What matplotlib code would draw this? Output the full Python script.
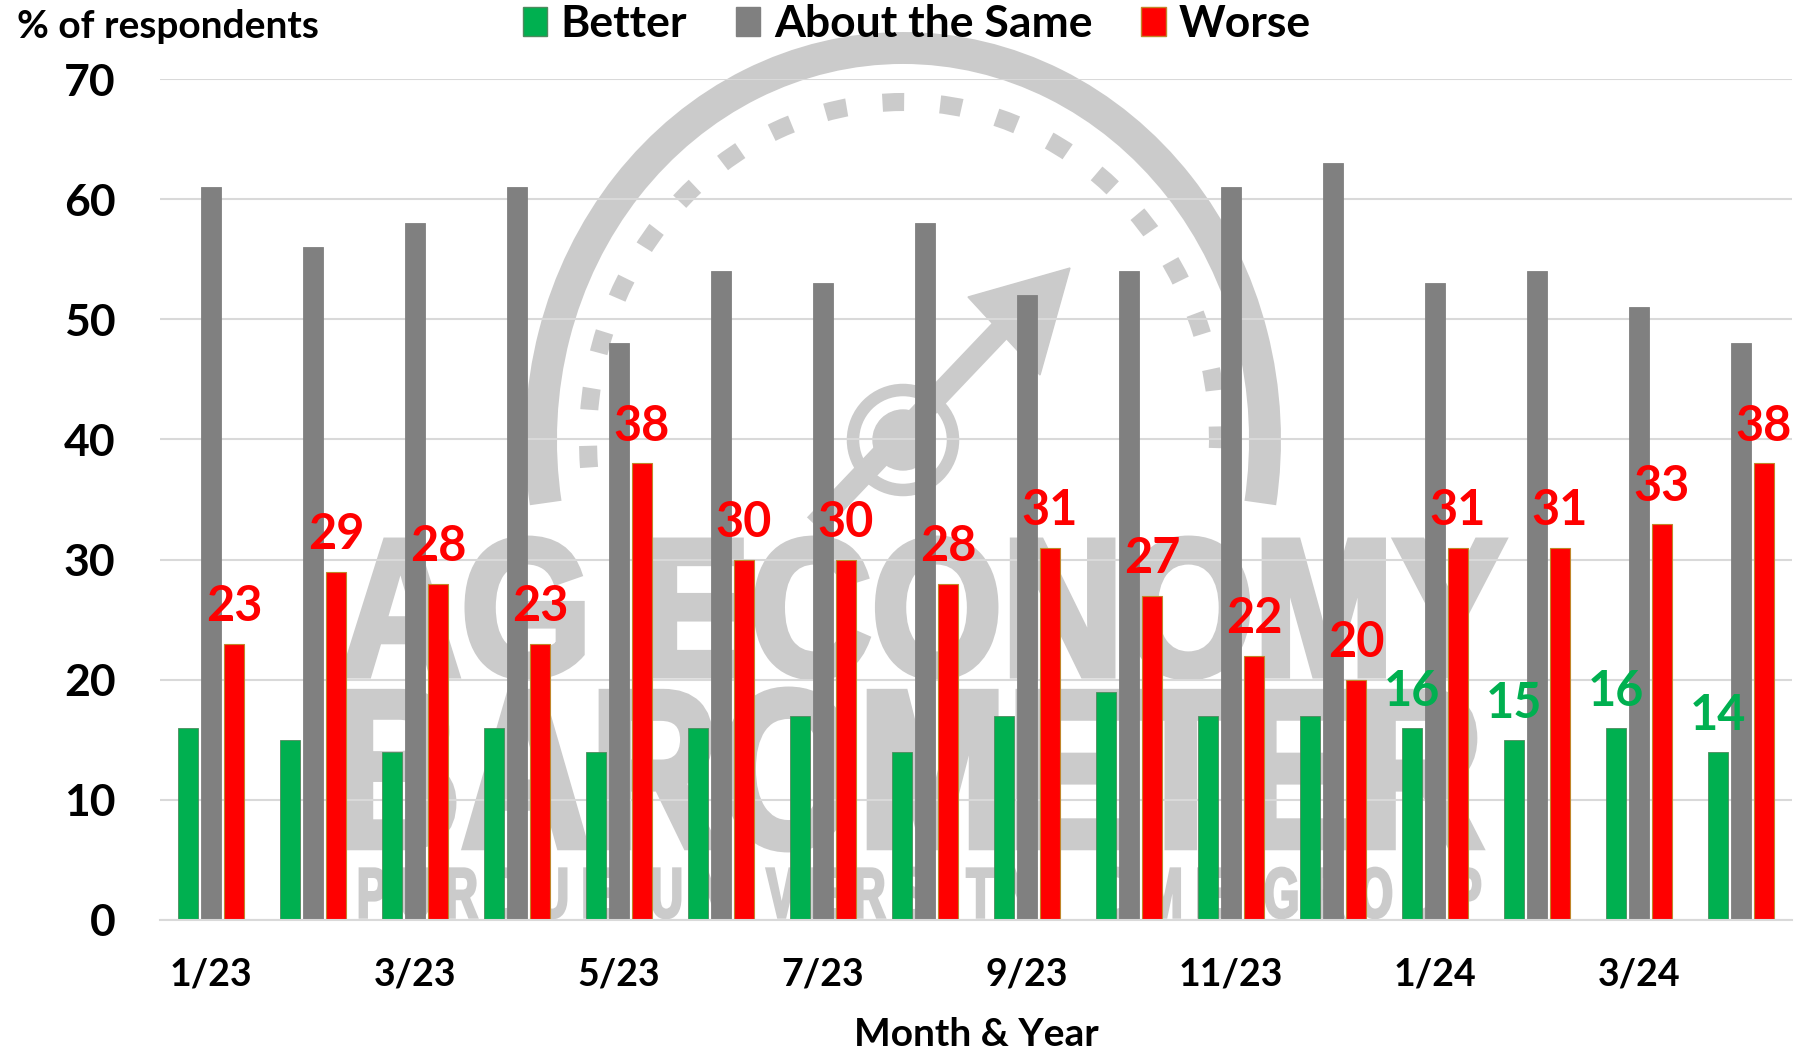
import numpy as np
import matplotlib
matplotlib.use("Agg")
import matplotlib.pyplot as plt
from matplotlib.patches import Arc, Circle, Polygon, PathPatch, Patch
from matplotlib.textpath import TextPath
from matplotlib.font_manager import FontProperties
from matplotlib.transforms import Affine2D

plt.rcParams['font.family'] = ['Lato', 'DejaVu Sans']
plt.rcParams['font.weight'] = 'bold'

# data
months = ["1/23", "2/23", "3/23", "4/23", "5/23", "6/23", "7/23", "8/23",
          "9/23", "10/23", "11/23", "12/23", "1/24", "2/24", "3/24", "4/24"]
better = [16, 15, 14, 16, 14, 16, 17, 14, 17, 19, 17, 17, 16, 15, 16, 14]
same = [61, 56, 58, 61, 48, 54, 53, 58, 52, 54, 61, 63, 53, 54, 51, 48]
worse = [23, 29, 28, 23, 38, 30, 30, 28, 31, 27, 22, 20, 31, 31, 33, 38]
# months where the "Better" value is labelled
better_labelled = ["1/24", "2/24", "3/24", "4/24"]

green = "#00B050"
grey = "#808080"
red = "#FF0000"
wm = "#CBCBCB"

W, H = 1799, 1053
fig = plt.figure(figsize=(W / 100, H / 100), dpi=100)

# --- watermark, drawn in pixel coordinates behind the chart ---
bg = fig.add_axes([0, 0, 1, 1], zorder=0)
bg.set_xlim(0, W)
bg.set_ylim(H, 0)
bg.axis("off")

# y axis is flipped here, so angles run the other way
cx, cy = 903, 440
bg.add_patch(Arc((cx, cy), 2 * 362, 2 * 392, theta1=170, theta2=370,
                 color=wm, lw=23))
bg.add_patch(Arc((cx, cy), 2 * 315, 2 * 338, theta1=175, theta2=365,
                 color=wm, lw=13, linestyle=(0, (1.2, 2.0))))
bg.add_patch(Circle((cx, cy), 50, fill=False, ec=wm, lw=9))
bg.add_patch(Circle((cx, cy), 30, color=wm))
bg.plot([815, 1010], [525, 320], color=wm, lw=16, solid_capstyle="butt")
bg.add_patch(Polygon([[1070, 268], [968, 297], [1040, 375]], color=wm))


def fit_text(s, x0, x1, y0, y1, thick=0):
    fp = FontProperties(family="Liberation Sans", weight="bold")
    tp = TextPath((0, 0), s, size=100, prop=fp)
    ext = tp.get_extents()
    sx = (x1 - x0) / ext.width
    sy = (y1 - y0) / ext.height
    tr = Affine2D().translate(-ext.x0, -ext.y0).scale(sx, -sy).translate(x0, y1)
    bg.add_patch(PathPatch(tr.transform_path(tp), fc=wm, ec=wm, lw=thick))


fit_text("AG ECONOMY", 344, 1503, 539, 677, thick=5)
fit_text("BAROMETER", 344, 1480, 690, 849, thick=5)
fit_text("P U R D U E   U N I V E R S I T Y     C M E   G R O U P",
         360, 1480, 868, 918, thick=2)

# --- main chart ---
ax = fig.add_axes([160 / W, 1 - 920 / H, 1632 / W, 841 / H], zorder=1)
ax.set_facecolor("none")

x = np.arange(len(months))
bw = 0.19
off = 0.225
ax.bar(x - off, better, bw, color=green, edgecolor="#4E8A5E", linewidth=0.6, zorder=2)
ax.bar(x, same, bw, color=grey, edgecolor=grey, linewidth=0.6, zorder=2)
ax.bar(x + off, worse, bw, color=red, edgecolor="#C0862A", linewidth=0.8, zorder=2)

for i, m in enumerate(months):
    ax.annotate(str(worse[i]), (x[i] + off, worse[i]), xytext=(0, 16),
                textcoords="offset points", ha="center", va="baseline",
                color=red, fontsize=35, fontweight="bold")
    if m in better_labelled:
        ax.annotate(str(better[i]), (x[i] - off, better[i]), xytext=(0, 16),
                    textcoords="offset points", ha="center", va="baseline",
                    color=green, fontsize=35, fontweight="bold")

ax.set_xlim(-0.5, 15.5)
ax.set_ylim(0, 70)
ax.set_yticks(range(0, 71, 10))
ax.set_xticks(x[::2])
ax.set_xticklabels(months[::2])
ax.tick_params(axis="y", length=0, pad=32, labelsize=32)
ax.tick_params(axis="x", length=0, pad=27, labelsize=27)
for lab in ax.get_xticklabels() + ax.get_yticklabels():
    lab.set_fontweight("bold")

ax.grid(axis="y", color="#D9D9D9", lw=1.5, zorder=0)
ax.set_axisbelow(True)
for sp in ["top", "right", "left"]:
    ax.spines[sp].set_visible(False)
ax.spines["bottom"].set_color("#D9D9D9")
ax.spines["bottom"].set_linewidth(1.5)

fig.text(17 / W, 1 - 26 / H, "% of respondents", ha="left", va="center",
         fontsize=28, fontweight="bold")
fig.text(976 / W, 1 - 1034 / H, "Month & Year", ha="center", va="center",
         fontsize=28, fontweight="bold")

handles = [Patch(facecolor=green, edgecolor="#4E8A5E", label="Better"),
           Patch(facecolor=grey, edgecolor=grey, label="About the Same"),
           Patch(facecolor=red, edgecolor="#C0862A", label="Worse")]
fig.legend(handles=handles, loc="center", bbox_to_anchor=(917 / W, 1 - 24 / H),
           ncol=3, frameon=False, handlelength=0.55,
           handleheight=0.65, handletextpad=0.3, columnspacing=1.1,
           prop={"weight": "bold", "size": 32})

fig.savefig("out.png", dpi=100)
